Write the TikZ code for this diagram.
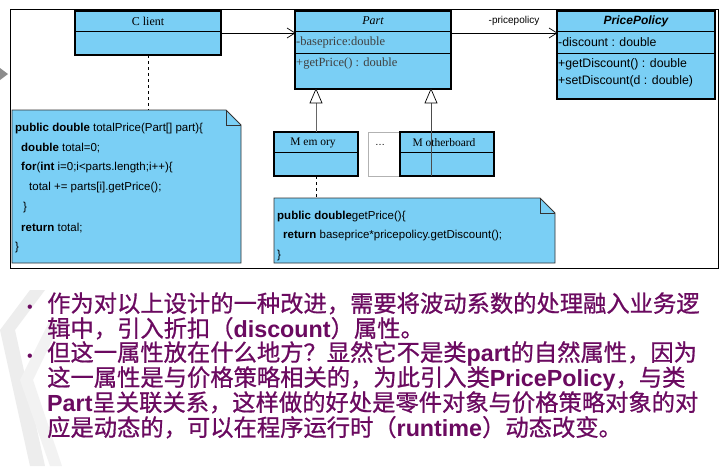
\documentclass[tikz,border=0pt]{standalone}
\usepackage{fontspec}
\setmainfont{Liberation Sans}
\newfontfamily\cjk[FakeBold=0.8]{Noto Sans CJK SC}
\newfontfamily\tms{Liberation Serif}
\begin{document}
\begin{tikzpicture}[x=1pt,y=-1pt,
  cls/.style={draw=black,line width=1.2pt,fill=uml},
  sep/.style={draw=black,line width=0.8pt},
  note/.style={draw=black!80,line width=0.8pt,fill=uml},
  txt/.style={inner sep=0pt,anchor=west,font=\fontsize{11.5}{13}\selectfont},
  ln/.style={inner sep=0pt,anchor=base west,text=purp,font=\fontsize{23.3}{26}\selectfont\cjk}]
\definecolor{uml}{HTML}{7ACFF5}
\definecolor{purp}{HTML}{6B0A60}
\useasboundingbox (0,0) rectangle (723,466);
\fill[white] (0,0) rectangle (723,466);
% left watermark chevrons
\fill[black!7] (0,330) -- (30,290) -- (45,290) -- (15,330) -- (45,466) -- (30,466) -- cycle;
\fill[black!5] (20,380) -- (50,320) -- (62,320) -- (33,380) -- (62,466) -- (50,466) -- cycle;
\fill[black!45] (0,68) -- (8,74) -- (0,80) -- cycle;
% frame
\draw[black,line width=0.6pt] (10,9) rectangle (718,268);
% Client
\path[cls] (75,11) rectangle (221,55);
\draw[sep] (75,31) -- (221,31);
\node[inner sep=0pt,font=\tms\fontsize{12}{14}\selectfont] (client) at (148,21) {C lient};
\coordinate (clb) at (148,55);
% Part
\path[cls] (295,11) rectangle (451,89);
\draw[sep] (295,31) -- (451,31);
\draw[sep] (295,53) -- (451,53);
\node[inner sep=0pt,font=\tms\itshape\fontsize{12}{14}\selectfont] (part) at (373,21) {Part};
\node[txt,text=black!75,font=\tms\fontsize{12.5}{14}\selectfont] (pa) at (296,42) {-baseprice:double};
\node[txt,text=black!75,font=\tms\fontsize{12.5}{14}\selectfont] (pm) at (296,64) {+getPrice() : double};
% PricePolicy
\path[cls] (557,11) rectangle (715,99);
\draw[sep] (557,31) -- (715,31);
\draw[sep] (557,53) -- (715,53);
\node[inner sep=0pt,font=\bfseries\itshape\fontsize{12}{14}\selectfont] (pp) at (636,21) {PricePolicy};
\node[txt,font=\fontsize{12.3}{14}\selectfont] (d1) at (558,42) {-discount : double};
\node[txt,font=\fontsize{12.3}{14}\selectfont] (d2) at (558,64) {+getDiscount() : double};
\node[txt,font=\fontsize{12.3}{14}\selectfont] (d3) at (558,81) {+setDiscount(d : double)};
% associations
\draw[line width=0.7pt] (221,33) -- (295,33);
\draw[line width=0.7pt] (287,28) -- (295,33) -- (287,38);
\draw[line width=0.7pt] (451,33) -- (557,33);
\draw[line width=0.7pt] (549,28) -- (557,33) -- (549,38);
\node[inner sep=0pt,font=\fontsize{10}{12}\selectfont] (role) at (514,21) {-pricepolicy};
% Memory
\path[cls] (274,132) rectangle (358,176);
\draw[sep] (274,152) -- (358,152);
\node[inner sep=0pt,font=\tms\fontsize{11.5}{13}\selectfont] (mem) at (313,143) {M em ory};
% dots
\draw[black!30,line width=0.6pt] (368,132) rectangle (400,176);
\node[inner sep=0pt] (dots) at (380,145) {\dots};
% Motherboard
\path[cls] (400,132) rectangle (494,176);
\draw[sep] (400,152) -- (494,152);
\node[inner sep=0pt,font=\tms\fontsize{11.5}{13}\selectfont] (mb) at (444,143) {M otherboard};
% inheritance
\draw[black!60,line width=1pt] (316,132) -- (316,103);
\draw[line width=0.7pt,fill=white] (316,89) -- (310,103) -- (322,103) -- cycle;
\draw[black!70,line width=0.7pt] (431,176) -- (431,103);
\draw[line width=0.7pt,fill=white] (431,89) -- (425,103) -- (437,103) -- cycle;
% notes
\path[note] (12,110) -- (226,110) -- (241,125) -- (241,263) -- (12,263) -- cycle;
\draw[black!80,line width=0.8pt] (226,110) -- (226,125) -- (241,125);
\draw[dashed,line width=0.6pt] (clb) -- (148,110);
\begin{scope}[every node/.style={txt}]
\node (n1) at (15,129) {\textbf{public double} totalPrice(Part[] part)\{};
\node (n2) at (21,148) {\textbf{double} total=0;};
\node (n3) at (21,168) {\textbf{for}(\textbf{int} i=0;i<parts.length;i++)\{};
\node (n4) at (29,188) {total += parts[i].getPrice();};
\node (n5) at (23,208) {\}};
\node (n6) at (21,228) {\textbf{return} total;};
\node (n7) at (15,248) {\}};
\end{scope}
\path[note] (274,198) -- (540,198) -- (555,213) -- (555,263) -- (274,263) -- cycle;
\draw[black!80,line width=0.8pt] (540,198) -- (540,213) -- (555,213);
\draw[dashed,line width=0.6pt] (316,176) -- (316,198);
\begin{scope}[every node/.style={txt}]
\node (m1) at (277,217) {\textbf{public double}getPrice()\{};
\node (m2) at (283,236) {\textbf{return} baseprice*pricepolicy.getDiscount();};
\node (m3) at (277,256) {\}};
\end{scope}
% text
\newcommand{\bl}[1]{{\fontspec{Liberation Sans}\bfseries #1}}
\node[inner sep=0pt,anchor=base,text=purp,font=\fontsize{16}{16}\selectfont] (b1) at (30,312) {•};
\node[inner sep=0pt,anchor=base,text=purp,font=\fontsize{16}{16}\selectfont] (b2) at (30,361) {•};
\node[ln] (l1) at (47,312) {作为对以上设计的一种改进，需要将波动系数的处理融入业务逻};
\node[ln] (l2) at (47,337) {辑中，引入折扣（\bl{discount}）属性。};
\node[ln] (l3) at (47,361) {但这一属性放在什么地方？显然它不是类\bl{part}的自然属性，因为};
\node[ln] (l4) at (47,386) {这一属性是与价格策略相关的，为此引入类\bl{PricePolicy}，与类};
\node[ln] (l5) at (47,411) {\bl{Part}呈关联关系，这样做的好处是零件对象与价格策略对象的对};
\node[ln] (l6) at (47,436) {应是动态的，可以在程序运行时（\bl{runtime}）动态改变。};
\end{tikzpicture}
\end{document}
